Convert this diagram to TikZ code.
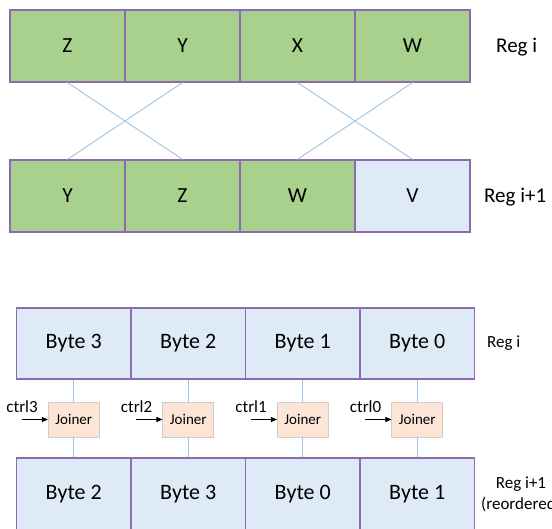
\documentclass[tikz,border=0pt]{standalone}
\usepackage{fontspec}
\setmainfont{Carlito}
\usetikzlibrary{arrows.meta}
\definecolor{gfill}{HTML}{A9D18E}
\definecolor{bfill}{HTML}{DEEBF7}
\definecolor{pborder}{HTML}{8E6BAF}
\definecolor{lline}{HTML}{9DC3E6}
\definecolor{jfill}{HTML}{FBE5D6}
\definecolor{jborder}{HTML}{D3CBC4}
\begin{document}
\begin{tikzpicture}[x=1pt,y=-1pt,
  cellbase/.style={draw=pborder, line width=1.2pt, inner sep=0pt, minimum width=115pt, minimum height=72pt},
  cellg/.style={cellbase, fill=gfill, font=\fontsize{21.5}{25}\selectfont},
  cellv/.style={cellbase, fill=bfill, font=\fontsize{21.5}{25}\selectfont},
  cellb/.style={cellbase, fill=bfill, minimum width=114.5pt, minimum height=71pt, font=\fontsize{22}{26}\selectfont},
  joinerbox/.style={draw=jborder, line width=0.6pt, fill=jfill, inner sep=0pt, minimum width=51pt, minimum height=35pt, font=\fontsize{15}{18}\selectfont},
  link/.style={draw=lline, line width=0.9pt},
  ctrlarrow/.style={draw=black, line width=0.9pt, -{Triangle[length=6pt,width=5pt]}},
  ctrltext/.style={inner sep=0pt, anchor=base east, font=\fontsize{17}{20}\selectfont},
  reglabel/.style={inner sep=0pt, anchor=west, font=\fontsize{21}{25}\selectfont},
  reglabelsmall/.style={inner sep=0pt, anchor=west, font=\fontsize{17}{21}\selectfont}
]
\useasboundingbox (0,0) rectangle (552,528);
\clip (0,0) rectangle (552,528);
% ---------- top section ----------
\node[cellg] (tz) at (67.5,46) {Z};
\node[cellg] (ty) at (182.5,46) {Y};
\node[cellg] (tx) at (297.5,46) {X};
\node[cellg] (tw) at (412.5,46) {W};
\node[cellg] (by) at (67.5,196) {Y};
\node[cellg] (bz) at (182.5,196) {Z};
\node[cellg] (bw) at (297.5,196) {W};
\node[cellv] (bv) at (412.5,196) {V};
\draw[link] (tz.south) -- (bz.north);
\draw[link] (ty.south) -- (by.north);
\draw[link] (tx.south) -- (bv.north);
\draw[link] (tw.south) -- (bw.north);
\node[reglabel] (lt1) at (496,47) {Reg i};
\node[reglabel] (lt2) at (484,197) {Reg i+1};
% ---------- bottom section ----------
\node[cellb] (r3) at (73.75,343.5) {Byte 3};
\node[cellb] (r2) at (188.25,343.5) {Byte 2};
\node[cellb] (r1) at (302.75,343.5) {Byte 1};
\node[cellb] (r0) at (417.25,343.5) {Byte 0};
\node[cellb, minimum height=72pt] (s2) at (73.75,494) {Byte 2};
\node[cellb, minimum height=72pt] (s3) at (188.25,494) {Byte 3};
\node[cellb, minimum height=72pt] (s0) at (302.75,494) {Byte 0};
\node[cellb, minimum height=72pt] (s1) at (417.25,494) {Byte 1};
\foreach \i/\x/\top/\bot/\c in {3/73.75/r3/s2/3, 2/188.25/r2/s3/2, 1/302.75/r1/s0/1, 0/417.25/r0/s1/0}{
  \node[joinerbox] (j\i) at (\x,419.5) {Joiner};
  \draw[link] (\top.south) -- (j\i.north);
  \draw[link] (j\i.south) -- (\bot.north);
  \coordinate (c\i) at ([xshift=-26pt]j\i.west);
  \draw[ctrlarrow] (c\i) -- (j\i.west);
  \node[ctrltext] (t\i) at ([xshift=-10pt,yshift=7pt]j\i.west) {ctrl\c};
}
\node[reglabelsmall] (lb1) at (487,343) {Reg i};
\node[reglabelsmall, align=center] (lb2) at (481,494) {Reg i+1\\(reordered)};
\end{tikzpicture}
\end{document}
